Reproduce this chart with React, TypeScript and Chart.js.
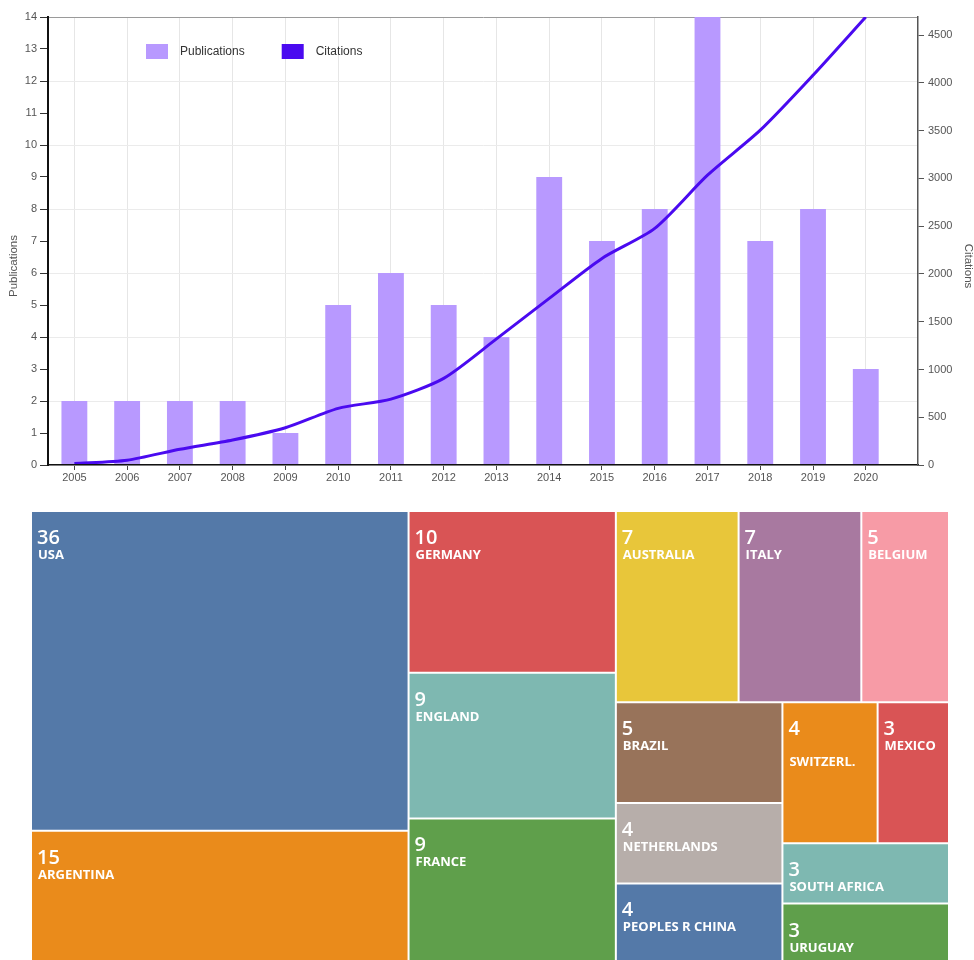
import React, { useEffect, useRef } from 'react';
import { Chart, registerables, BarElement } from 'chart.js';

Chart.register(...registerables);

// ---------- data: publications / citations per year ----------
const years = [2005, 2006, 2007, 2008, 2009, 2010, 2011, 2012, 2013, 2014, 2015, 2016, 2017, 2018, 2019, 2020];
const publications = [2, 2, 2, 2, 1, 5, 6, 5, 4, 9, 7, 8, 14, 7, 8, 3];
const citations = [15, 50, 165, 262, 390, 593, 690, 907, 1320, 1744, 2163, 2477, 3034, 3505, 4080, 4690];
const publicationsStep = 1;
const citationTicks = [0, 500, 1000, 1500, 2000, 2500, 3000, 3500, 4000, 4500];

// ---------- data: countries treemap ----------
const countries = [
  'USA', 'ARGENTINA', 'GERMANY', 'ENGLAND', 'FRANCE', 'AUSTRALIA', 'ITALY', 'BELGIUM',
  'BRAZIL', 'NETHERLANDS', 'PEOPLES R CHINA', '\nSWITZERL.', 'MEXICO', 'SOUTH AFRICA', 'URUGUAY',
];
const countryCounts = [36, 15, 10, 9, 9, 7, 7, 5, 5, 4, 4, 4, 3, 3, 3];
const palette = ['#5479a8', '#ea8b1b', '#d95455', '#7eb8b1', '#5f9f4b', '#e8c63a', '#a879a0', '#f79ba6', '#98735a', '#b7aeaa'];

const BAR_COLOR = '#b899ff';
const LINE_COLOR = '#4a0af0';
const FONT = '"Liberation Sans", Arial, sans-serif';

type Rect = { x0: number; y0: number; x1: number; y1: number };

// squarified treemap layout (same rules as d3.treemapSquarify)
function squarify(values: number[], x0: number, y0: number, x1: number, y1: number): Rect[] {
  const ratio = (1 + Math.sqrt(5)) / 2;
  const out: Rect[] = new Array(values.length);
  let value = values.reduce((a, b) => a + b, 0);
  let i0 = 0;
  let i1 = 0;
  const n = values.length;
  while (i0 < n) {
    const dx = x1 - x0;
    const dy = y1 - y0;
    let sumValue = values[i1++];
    let minValue = sumValue;
    let maxValue = sumValue;
    const alpha = Math.max(dy / dx, dx / dy) / (value * ratio);
    let beta = sumValue * sumValue * alpha;
    let minRatio = Math.max(maxValue / beta, beta / minValue);
    for (; i1 < n; ++i1) {
      const nv = values[i1];
      sumValue += nv;
      if (nv < minValue) minValue = nv;
      if (nv > maxValue) maxValue = nv;
      beta = sumValue * sumValue * alpha;
      const newRatio = Math.max(maxValue / beta, beta / minValue);
      if (newRatio > minRatio) {
        sumValue -= nv;
        break;
      }
      minRatio = newRatio;
    }
    if (dx < dy) {
      const ny = y0 + (dy * sumValue) / value;
      let x = x0;
      const k = (x1 - x0) / sumValue;
      for (let i = i0; i < i1; i++) {
        const w = values[i] * k;
        out[i] = { x0: x, y0, x1: x + w, y1: ny };
        x += w;
      }
      y0 = ny;
    } else {
      const nx = x0 + (dx * sumValue) / value;
      let y = y0;
      const k = (y1 - y0) / sumValue;
      for (let i = i0; i < i1; i++) {
        const h = values[i] * k;
        out[i] = { x0, y0: y, x1: nx, y1: y + h };
        y += h;
      }
      x0 = nx;
    }
    value -= sumValue;
    i0 = i1;
  }
  return out;
}

const decorPlugin = {
  id: 'decor',
  afterDraw(chart: any) {
    const { ctx, chartArea } = chart;
    ctx.save();
    // legend inside the plot
    let lx = chartArea.left + 98;
    const ly = chartArea.top + 27;
    ctx.font = `12px ${FONT}`;
    ctx.textBaseline = 'middle';
    ctx.textAlign = 'left';
    chart.data.datasets.forEach((ds: any) => {
      ctx.fillStyle = ds.type === 'line' ? ds.borderColor : ds.backgroundColor;
      ctx.fillRect(lx, ly, 22, 15);
      ctx.fillStyle = '#333';
      ctx.fillText(ds.label, lx + 34, ly + 8);
      lx += 34 + ctx.measureText(ds.label).width + 37;
    });
    // axis titles
    ctx.font = `11.5px ${FONT}`;
    ctx.fillStyle = '#555';
    ctx.textAlign = 'center';
    ctx.save();
    ctx.translate(14, 266);
    ctx.rotate(-Math.PI / 2);
    ctx.fillText('Publications', 0, 0);
    ctx.restore();
    ctx.save();
    ctx.translate(968, 266);
    ctx.rotate(Math.PI / 2);
    ctx.fillText('Citations', 0, 0);
    ctx.restore();
    ctx.restore();
  },
};

const treemapPlugin = {
  id: 'treemapCells',
  afterDatasetsDraw(chart: any) {
    const { ctx, chartArea, scales } = chart;
    const xs = scales.x;
    const ys = scales.y;
    const aspect = chartArea.width / chartArea.height;
    const rects = squarify(countryCounts, 0, 0, aspect, 1);
    const gap = 1;
    rects.forEach((r, i) => {
      const left = xs.getPixelForValue(r.x0 / aspect);
      const right = xs.getPixelForValue(r.x1 / aspect);
      const top = ys.getPixelForValue(r.y0);
      const bottom = ys.getPixelForValue(r.y1);
      const el: any = new (BarElement as any)({
        x: (left + right) / 2,
        width: right - left - 2 * gap,
        y: top + gap,
        base: bottom - gap,
        horizontal: false,
        borderSkipped: {},
        enableBorderRadius: false,
        inflateAmount: 0,
        options: {
          backgroundColor: palette[i % palette.length],
          borderColor: 'rgba(0,0,0,0)',
          borderWidth: 0,
          borderRadius: 0,
        },
      });
      el.draw(ctx);

      ctx.save();
      ctx.beginPath();
      ctx.rect(left + gap, top + gap, right - left - 2 * gap, bottom - top - 2 * gap);
      ctx.clip();
      ctx.fillStyle = '#ffffff';
      ctx.textAlign = 'left';
      ctx.textBaseline = 'alphabetic';
      ctx.font = '600 20px "Open Sans", sans-serif';
      ctx.fillText(String(countryCounts[i]), left + 6, top + 33);
      ctx.font = '700 13px "Open Sans", sans-serif';
      countries[i].split('\n').forEach((line, k) => {
        if (line) ctx.fillText(line, left + 7, top + 48 + k * 16);
      });
      ctx.restore();
    });
  },
};

export default function App() {
  const topRef = useRef<HTMLCanvasElement>(null);
  const mapRef = useRef<HTMLCanvasElement>(null);

  useEffect(() => {
    const tickFont = { family: FONT, size: 11 };
    const pubMax = Math.max(...publications);
    const citMax = Math.max(...citations);

    const top = new Chart(topRef.current as HTMLCanvasElement, {
      type: 'bar',
      data: {
        labels: years,
        datasets: [
          {
            type: 'bar',
            label: 'Publications',
            data: publications,
            yAxisID: 'y',
            backgroundColor: BAR_COLOR,
            categoryPercentage: 1,
            barPercentage: 0.49,
            order: 1,
          } as any,
          {
            type: 'line',
            label: 'Citations',
            data: citations,
            yAxisID: 'y1',
            borderColor: LINE_COLOR,
            backgroundColor: LINE_COLOR,
            borderWidth: 3,
            pointRadius: 0,
            tension: 0.25,
            order: 0,
          } as any,
        ],
      },
      options: {
        animation: false,
        responsive: false,
        layout: { padding: { top: 17, left: 0, right: 0, bottom: 0 } },
        plugins: { legend: { display: false }, tooltip: { enabled: false } },
        scales: {
          x: {
            type: 'linear',
            min: years[0] - 0.5,
            max: years[years.length - 1] + 0.99,
            offset: false,
            ticks: {
              stepSize: 1,
              includeBounds: false,
              autoSkip: false,
              maxRotation: 0,
              color: '#555',
              font: tickFont,
              padding: 1,
              callback: (v: any) => String(v),
            },
            grid: { color: '#e6e6e6', offset: false, tickColor: '#444', tickLength: 5 },
            border: { color: '#111', width: 1.5, z: 1 },
            afterBuildTicks: (s: any) => {
              s.ticks = years.map((v) => ({ value: v }));
            },
            afterFit: (s: any) => {
              s.height = 25;
            },
          } as any,
          y: {
            position: 'left',
            min: 0,
            max: pubMax,
            ticks: { stepSize: publicationsStep, color: '#555', font: tickFont, padding: 3 },
            grid: {
              color: (c: any) =>
                c.tick && c.tick.value === pubMax
                  ? '#9a9a9a'
                  : c.tick && c.tick.value % 2 === 0
                  ? '#ebebeb'
                  : 'rgba(0,0,0,0)',
              tickColor: '#333',
              tickLength: 8,
            },
            border: { color: '#111', width: 2, z: 1 },
            afterFit: (s: any) => {
              s.width = 48;
            },
          } as any,
          y1: {
            position: 'right',
            min: 0,
            max: citMax,
            ticks: {
              color: '#555',
              font: tickFont,
              padding: 4,
              callback: (v: any) => String(v),
            },
            grid: { drawOnChartArea: false, tickColor: '#555', tickLength: 6 },
            border: { color: '#555', width: 1.5, z: 1 },
            afterBuildTicks: (s: any) => {
              s.ticks = citationTicks.map((v) => ({ value: v }));
            },
            afterFit: (s: any) => {
              s.width = 56;
            },
          } as any,
        },
      },
      plugins: [decorPlugin],
    });

    const map = new Chart(mapRef.current as HTMLCanvasElement, {
      type: 'scatter',
      data: { datasets: [] },
      options: {
        animation: false,
        responsive: false,
        layout: { padding: { left: 31, top: 21, right: 25, bottom: 6 } },
        plugins: { legend: { display: false }, tooltip: { enabled: false } },
        scales: {
          x: { type: 'linear', min: 0, max: 1, display: false },
          y: { type: 'linear', min: 0, max: 1, reverse: true, display: false },
        },
      },
      plugins: [treemapPlugin],
    });

    return () => {
      top.destroy();
      map.destroy();
    };
  }, []);

  return (
    <div
      style={{
        position: 'absolute',
        left: 0,
        top: 0,
        width: 974,
        height: 960,
        overflow: 'hidden',
        background: '#ffffff',
      }}
    >
      <canvas ref={topRef} width={974} height={490} style={{ position: 'absolute', left: 0, top: 0 }} />
      <canvas ref={mapRef} width={974} height={480} style={{ position: 'absolute', left: 0, top: 490 }} />
    </div>
  );
}
